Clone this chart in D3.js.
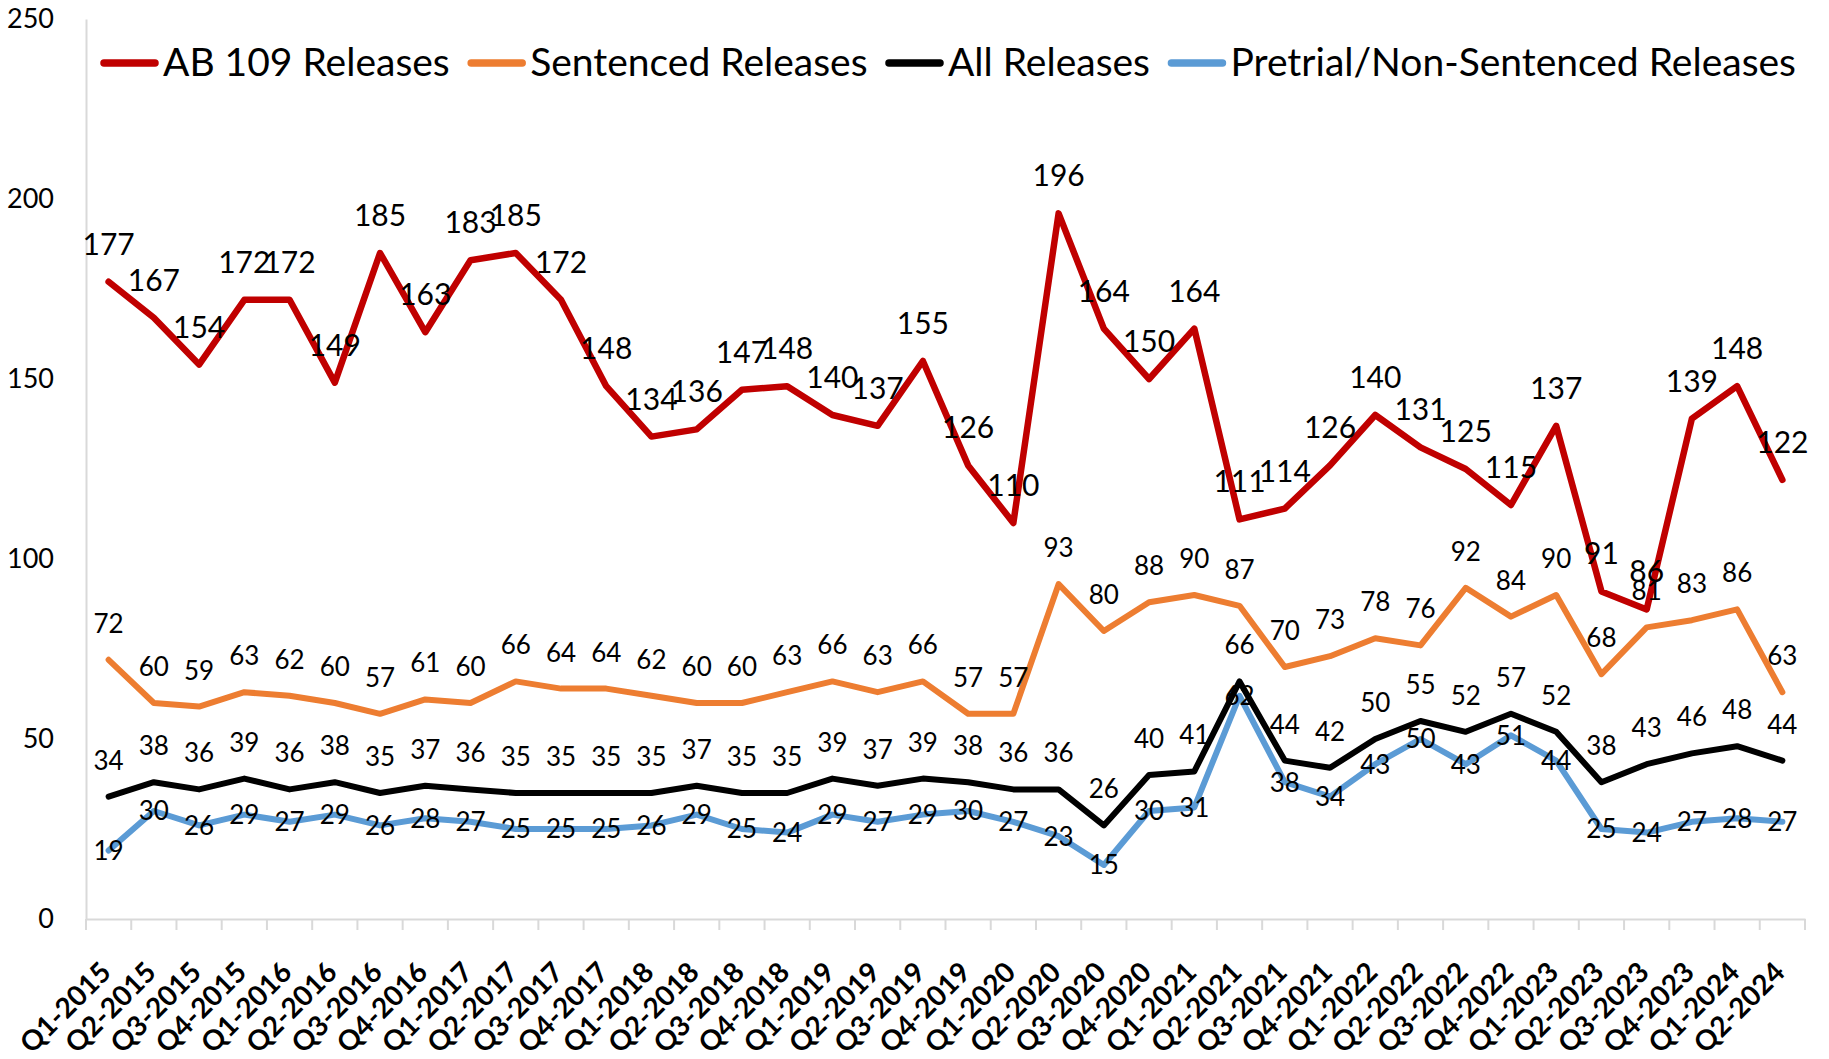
<!DOCTYPE html>
<html>
<head>
<meta charset="utf-8">
<script src="https://d3js.org/d3.v7.min.js"></script>
<style>
  body { margin: 0; background: #fff; }
  svg { font-family: Lato, "Open Sans", sans-serif; }
</style>
</head>
<body>
<svg width="1829" height="1059"></svg>
<script>
const quarters = [
    "Q1-2015", "Q2-2015", "Q3-2015", "Q4-2015",
    "Q1-2016", "Q2-2016", "Q3-2016", "Q4-2016",
    "Q1-2017", "Q2-2017", "Q3-2017", "Q4-2017",
    "Q1-2018", "Q2-2018", "Q3-2018", "Q4-2018",
    "Q1-2019", "Q2-2019", "Q3-2019", "Q4-2019",
    "Q1-2020", "Q2-2020", "Q3-2020", "Q4-2020",
    "Q1-2021", "Q2-2021", "Q3-2021", "Q4-2021",
    "Q1-2022", "Q2-2022", "Q3-2022", "Q4-2022",
    "Q1-2023", "Q2-2023", "Q3-2023", "Q4-2023",
    "Q1-2024", "Q2-2024"
];
const ab109 = [177, 167, 154, 172, 172, 149, 185, 163, 183, 185, 172, 148, 134, 136, 147, 148, 140, 137, 155, 126,
    110, 196, 164, 150, 164, 111, 114, 126, 140, 131, 125, 115, 137, 91, 86, 139, 148, 122];
const sentenced = [72, 60, 59, 63, 62, 60, 57, 61, 60, 66, 64, 64, 62, 60, 60, 63, 66, 63, 66, 57,
    57, 93, 80, 88, 90, 87, 70, 73, 78, 76, 92, 84, 90, 68, 81, 83, 86, 63];
const allReleases = [34, 38, 36, 39, 36, 38, 35, 37, 36, 35, 35, 35, 35, 37, 35, 35, 39, 37, 39, 38,
    36, 36, 26, 40, 41, 66, 44, 42, 50, 55, 52, 57, 52, 38, 43, 46, 48, 44];
const pretrial = [19, 30, 26, 29, 27, 29, 26, 28, 27, 25, 25, 25, 26, 29, 25, 24, 29, 27, 29, 30,
    27, 23, 15, 30, 31, 62, 38, 34, 43, 50, 43, 51, 44, 25, 24, 27, 28, 27];
const seriesNames = ["AB 109 Releases", "Sentenced Releases", "All Releases", "Pretrial/Non-Sentenced Releases"];
const yTicks = [0, 50, 100, 150, 200, 250];

const seriesValues = [ab109, sentenced, allReleases, pretrial],
    colors = ["#C00000", "#ED7D31", "#000000", "#5B9BD5"];

let svg = d3.select("svg"),
    plotLeft = 86,
    plotRight = 1805,
    plotTop = 19,
    plotBottom = 919;

let x = d3.scaleBand().domain(quarters).range([plotLeft, plotRight]).padding(0),
    y = d3.scaleLinear().domain([0, 250]).range([plotBottom, plotTop]);

// y axis: light grey line, labels only
let yAxis = svg.append("g")
    .attr("transform", `translate(${plotLeft},0)`)
    .call(d3.axisLeft(y).tickValues(yTicks).tickSize(0).tickPadding(32));
yAxis.select(".domain").attr("stroke", "#d9d9d9").attr("stroke-width", 2);
yAxis.selectAll("text")
    .attr("fill", "#000")
    .style("font-size", "27px")
    .style("font-family", "Lato, sans-serif");

// x axis: labels at category centres, rotated
let xAxis = svg.append("g")
    .attr("transform", `translate(0,${plotBottom})`)
    .call(d3.axisBottom(x).tickSize(0).tickSizeOuter(0));
xAxis.select(".domain").attr("stroke", "#d9d9d9").attr("stroke-width", 2);
xAxis.selectAll("text")
    .attr("fill", "#000")
    .attr("text-anchor", "end")
    .attr("dy", null)
    .attr("y", 0)
    .attr("transform", "translate(4,55) rotate(-45)")
    .style("font-size", "28px")
    .style("font-weight", "bold")
    .style("font-family", "Lato, sans-serif");

// tick marks sit between categories
let boundaries = quarters.map(q => x(q)).concat([x(quarters[quarters.length - 1]) + x.bandwidth()]);
svg.append("g")
    .selectAll("line")
    .data(boundaries)
    .enter()
    .append("line")
    .attr("x1", d => d)
    .attr("x2", d => d)
    .attr("y1", plotBottom)
    .attr("y2", plotBottom + 11)
    .attr("stroke", "#d9d9d9")
    .attr("stroke-width", 2);

let line = d3.line()
    .x((d, i) => x(quarters[i]) + x.bandwidth() / 2)
    .y(d => y(d));

svg.append("g")
    .selectAll("path")
    .data(seriesValues)
    .enter()
    .append("path")
    .attr("d", line)
    .attr("fill", "none")
    .attr("stroke", (d, i) => colors[i])
    .attr("stroke-width", (d, i) => i == 0 ? 6.5 : 6)
    .attr("stroke-linejoin", "round")
    .attr("stroke-linecap", "round");

// data labels: above for the first three, centred for pretrial
seriesValues.forEach(function(vals, s) {
    svg.append("g")
        .selectAll("text")
        .data(vals)
        .enter()
        .append("text")
        .attr("x", (d, i) => x(quarters[i]) + x.bandwidth() / 2)
        .attr("y", d => s == 3 ? y(d) : y(d) - 27)
        .attr("dy", s == 3 ? "0.36em" : null)
        .attr("text-anchor", "middle")
        .style("font-size", s == 0 ? "30px" : "26px")
        .attr("fill", "#000")
        .text(d => d);
});

// legend across the top
let legend = svg.append("g"),
    legendLeft = 101,
    legendRight = 1796,
    swatch = 57,
    swatchGap = 5;

let legendText = legend.selectAll("text")
    .data(seriesNames)
    .enter()
    .append("text")
    .attr("y", 76)
    .style("font-size", "39px")
    .attr("fill", "#000")
    .text(d => d);

let widths = [];
legendText.each(function() { widths.push(this.getComputedTextLength()); });
let spare = (legendRight - legendLeft) - d3.sum(widths) - seriesNames.length * (swatch + swatchGap),
    between = spare / (seriesNames.length - 1);

let pos = legendLeft;
seriesNames.forEach(function(name, i) {
    legend.append("line")
        .attr("x1", pos + 3)
        .attr("x2", pos + swatch - 3)
        .attr("y1", 63)
        .attr("y2", 63)
        .attr("stroke", colors[i])
        .attr("stroke-width", 7.5)
        .attr("stroke-linecap", "round");
    legendText.filter((d, j) => j == i).attr("x", pos + swatch + swatchGap);
    pos += swatch + swatchGap + widths[i] + between;
});
</script>
</body>
</html>
